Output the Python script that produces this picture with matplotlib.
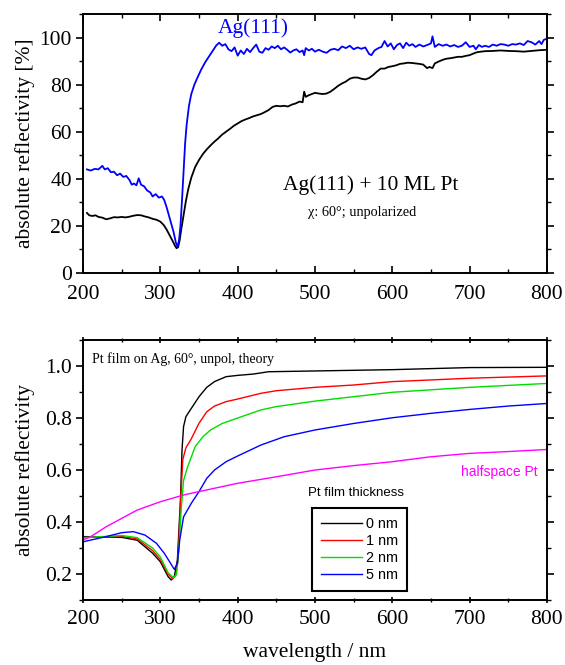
import matplotlib
matplotlib.use("Agg")
import matplotlib.pyplot as plt
from matplotlib.ticker import MultipleLocator

SERIF = ["Liberation Serif", "DejaVu Serif"]
SANS = ["Liberation Sans", "DejaVu Sans"]
plt.rcParams["font.family"] = SERIF
plt.rcParams["mathtext.fontset"] = "stix"

# ---- top panel: measured, Ag(111) and Ag(111) + 10 ML Pt (percent) ----
ag_wl = [205, 210, 215, 220, 225, 228, 232, 236, 240, 244, 248, 252, 256, 260, 263,
         266, 269, 272, 275, 279, 283, 287, 290, 294, 298, 302, 305, 308, 311, 314,
         317, 320, 322, 324, 326, 328, 330, 332, 334, 337, 340, 344, 348, 353, 358,
         363, 368, 372, 376, 380, 384, 388, 392, 396, 400, 404, 408, 412, 416, 420,
         424, 428, 432, 436, 440, 444, 448, 452, 456, 460, 464, 468, 472, 476, 480,
         484, 486, 488, 492, 496, 500, 505, 510, 515, 520, 525, 530, 535, 540, 545,
         550, 555, 560, 565, 570, 573, 577, 582, 586, 590, 594, 598, 602, 606, 610,
         614, 618, 622, 626, 630, 635, 640, 645, 650, 652, 655, 660, 665, 670, 675,
         680, 685, 690, 695, 700, 705, 708, 712, 716, 720, 725, 730, 735, 740, 745,
         750, 755, 760, 765, 770, 775, 780, 785, 790, 793, 796, 800]
ag_r = [44.0, 43.5, 44.2, 44.0, 45.5, 44.0, 44.5, 42.8, 43.0, 41.5, 42.2, 40.8, 41.2, 39.5, 37.5,
        38.0, 37.2, 40.2, 37.5, 36.8, 35.0, 34.2, 32.5, 33.5, 32.0, 32.5, 31.0, 28.0, 24.5, 21.0,
        17.5, 13.0, 11.2, 13.5, 20.0, 31.0, 43.0, 55.0, 63.0, 71.0, 76.0, 80.0, 83.0, 86.5, 89.5,
        92.0, 94.5, 96.5, 97.8, 96.5, 97.2, 95.0, 94.2, 95.8, 92.3, 94.5, 93.0, 95.2, 93.8, 95.5,
        97.0, 94.0, 93.5, 95.5, 94.8, 96.2, 95.5, 96.5, 95.0, 95.8, 94.8, 93.6, 94.5, 95.0, 93.8,
        94.5, 92.5, 95.5, 94.5, 95.2, 94.0, 94.8, 94.0, 93.5, 94.8, 95.2, 94.6, 96.2, 95.5, 96.5,
        95.0, 95.8, 95.2, 95.8, 93.0, 92.5, 94.5, 95.5, 96.0, 98.5, 96.2, 97.5, 95.0, 96.8, 97.5,
        95.5, 97.8, 96.5, 97.2, 96.0, 97.0, 96.2, 96.8, 97.5, 100.5, 96.0, 97.2, 96.5, 97.0, 96.2,
        96.8, 96.0, 96.5, 98.0, 96.0, 96.5, 95.0, 96.8, 96.0, 96.5, 96.0, 97.0, 96.5, 97.2, 97.0,
        96.5, 97.2, 97.0, 97.5, 96.8, 98.5, 98.0, 97.0, 98.5, 97.2, 99.0, 99.5]

pt_wl = [205, 208, 212, 216, 220, 225, 230, 235, 240, 245, 250, 255, 260, 265, 270,
         275, 280, 285, 290, 295, 300, 304, 308, 312, 316, 319, 321, 323, 325, 327,
         330, 333, 336, 340, 345, 350, 355, 360, 365, 370, 375, 380, 385, 390, 395,
         400, 405, 410, 415, 420, 425, 430, 435, 440, 445, 450, 455, 460, 465, 470,
         475, 480, 484, 486, 488, 492, 496, 500, 505, 510, 515, 520, 525, 530, 535,
         540, 545, 550, 555, 560, 565, 570, 575, 580, 585, 590, 595, 600, 605, 610,
         615, 620, 625, 630, 635, 640, 645, 648, 652, 655, 660, 665, 670, 675, 680,
         685, 690, 695, 700, 705, 710, 715, 720, 730, 740, 750, 760, 770, 780, 790, 800]
pt_r = [25.5, 24.5, 24.2, 24.5, 23.8, 23.5, 22.8, 23.2, 23.7, 23.6, 23.8, 23.6, 23.9, 24.3, 24.6,
        24.5, 24.0, 23.6, 23.0, 22.6, 21.8, 20.5, 18.5, 16.0, 13.5, 11.5, 10.5, 11.0, 14.0, 18.5,
        24.5, 30.5, 35.5, 40.5, 45.0, 48.0, 50.5, 52.5, 54.2, 55.8, 57.2, 58.8, 60.0, 61.2, 62.5,
        63.5, 64.5, 65.2, 65.8, 66.5, 67.0, 67.5, 68.3, 69.2, 70.5, 71.0, 70.8, 71.0, 70.7, 71.5,
        72.0, 72.8, 72.5, 77.0, 74.8, 75.5, 76.0, 76.5, 76.2, 76.0, 76.2, 77.0, 78.2, 79.5, 80.5,
        81.3, 82.5, 83.0, 83.0, 82.5, 82.2, 82.8, 84.0, 85.5, 86.8, 86.8, 87.5, 87.8, 88.2, 88.8,
        89.0, 89.3, 89.2, 89.0, 88.8, 88.5, 87.0, 87.5, 87.0, 89.0, 89.8, 90.5, 91.0, 91.2, 91.5,
        91.8, 91.8, 92.2, 92.5, 93.2, 93.8, 94.0, 94.2, 94.3, 94.5, 94.3, 94.2, 94.0, 94.3, 94.6, 94.8]

# ---- bottom panel: theory for Pt film thickness ----
th_labels = ["0 nm", "1 nm", "2 nm", "5 nm"]
th_colors = ["black", "#ff0000", "#00dd00", "#0000ff"]

t0_wl = [200, 250, 270, 290, 300, 310, 314, 318, 322, 326, 328, 330, 333, 340, 350,
         360, 370, 385, 400, 420, 440, 500, 600, 700, 800]
t0_r = [0.344, 0.341, 0.330, 0.280, 0.247, 0.190, 0.177, 0.190, 0.254, 0.485, 0.677, 0.767, 0.805,
        0.837, 0.882, 0.918, 0.940, 0.959, 0.964, 0.969, 0.978, 0.981, 0.986, 0.994, 0.995]

t1_wl = [200, 250, 270, 290, 300, 310, 316, 320, 323, 326, 329, 333, 340, 350, 360,
         370, 385, 400, 430, 450, 500, 550, 600, 700, 800]
t1_r = [0.340, 0.345, 0.335, 0.290, 0.255, 0.200, 0.182, 0.195, 0.260, 0.470, 0.640, 0.685,
        0.720, 0.780, 0.824, 0.846, 0.863, 0.873, 0.895, 0.905, 0.918, 0.927, 0.940, 0.953, 0.962]

t2_wl = [200, 250, 270, 290, 300, 310, 317, 321, 324, 327, 330, 335, 345, 355, 365,
         380, 400, 430, 450, 500, 550, 600, 700, 800]
t2_r = [0.340, 0.348, 0.340, 0.300, 0.265, 0.205, 0.185, 0.200, 0.300, 0.450, 0.560, 0.610,
        0.690, 0.728, 0.754, 0.779, 0.800, 0.831, 0.844, 0.865, 0.882, 0.899, 0.918, 0.933]

t5_wl = [200, 230, 250, 265, 280, 295, 305, 312, 318, 322, 325, 330, 340, 350, 360,
         370, 385, 400, 430, 460, 500, 550, 600, 650, 700, 750, 800]
t5_r = [0.324, 0.344, 0.359, 0.363, 0.350, 0.318, 0.280, 0.247, 0.218, 0.240, 0.330, 0.420,
        0.472, 0.517, 0.568, 0.600, 0.632, 0.654, 0.696, 0.728, 0.754, 0.779, 0.801, 0.818,
        0.833, 0.846, 0.856]

half_wl = [200, 210, 230, 250, 270, 300, 330, 350, 400, 450, 500, 550, 600, 650, 700, 750, 800]
half_r = [0.331, 0.344, 0.382, 0.414, 0.446, 0.478, 0.504, 0.517, 0.549, 0.574, 0.600, 0.617,
          0.632, 0.651, 0.664, 0.671, 0.679]

theory = [(t0_wl, t0_r), (t1_wl, t1_r), (t2_wl, t2_r), (t5_wl, t5_r)]

FS = 15.5


def style_axes(ax):
    ax.set_xlim(200, 800)
    ax.xaxis.set_major_locator(MultipleLocator(100))
    ax.xaxis.set_minor_locator(MultipleLocator(50))
    ax.tick_params(labelsize=FS, width=1.2, length=5, pad=3)
    ax.tick_params(which="minor", width=1.0, length=3)
    for s in ax.spines.values():
        s.set_linewidth(1.4)


fig = plt.figure(figsize=(5.65, 6.65), dpi=100)

# ---- top ----
ax1 = fig.add_axes([0.147, 0.5895, 0.821, 0.3895])
ax1.plot(pt_wl, pt_r, color="black", lw=1.3)
ax1.plot(ag_wl, ag_r, color="#0000ff", lw=1.3)
style_axes(ax1)
ax1.set_ylim(0, 110)
ax1.yaxis.set_major_locator(MultipleLocator(20))
ax1.yaxis.set_minor_locator(MultipleLocator(10))
ax1.tick_params(axis="y", which="both", direction="out", right=True)
ax1.tick_params(axis="x", which="both", direction="in", top=True)
ax1.tick_params(axis="x", which="major", pad=9)
ax1.set_ylabel("absolute reflectivity [%]", fontsize=FS)
ax1.yaxis.set_label_coords(-0.104, 0.5)
ax1.text(420, 104, "Ag(111)", color="#0000ff", fontsize=FS, ha="center", va="center")
ax1.text(572, 37.5, "Ag(111) + 10 ML Pt", fontsize=FS, ha="center", va="center")
ax1.text(561, 25.5, "χ: 60°; unpolarized", fontsize=10.3, ha="center", va="center")

# ---- bottom ----
ax2 = fig.add_axes([0.147, 0.0977, 0.821, 0.391])
for (wl, r), c, lab in zip(theory, th_colors, th_labels):
    ax2.plot(wl, r, color=c, lw=1.0, label=lab)
ax2.plot(half_wl, half_r, color="#ff00ff", lw=1.0)
style_axes(ax2)
ax2.set_ylim(0.1, 1.1)
ax2.yaxis.set_major_locator(MultipleLocator(0.2))
ax2.yaxis.set_minor_locator(MultipleLocator(0.1))
ax2.tick_params(axis="y", which="both", direction="out", right=True)
ax2.tick_params(axis="x", which="both", direction="inout", top=True)
ax2.tick_params(axis="x", which="major", pad=5)
ax2.set_ylabel("absolute reflectivity", fontsize=FS)
ax2.yaxis.set_label_coords(-0.104, 0.5)
ax2.set_xlabel("wavelength / nm", fontsize=FS)
ax2.xaxis.set_label_coords(0.5, -0.165)
ax2.text(212, 1.027, "Pt film on Ag, 60°, unpol, theory", fontsize=10,
         ha="left", va="center")
ax2.text(739, 0.592, "halfspace Pt", color="#ff00ff", fontsize=10, family=SANS,
         ha="center", va="center")
ax2.text(553, 0.512, "Pt film thickness", fontsize=9.5, family=SANS,
         ha="center", va="center")
leg = ax2.legend(loc="upper left", bbox_to_anchor=(0.493, 0.355),
                 prop={"family": SANS, "size": 10.4}, frameon=True, fancybox=False,
                 handlelength=2.8, handletextpad=0.3, labelspacing=0.2,
                 borderpad=0.65, borderaxespad=0, edgecolor="black", framealpha=1)
leg.get_frame().set_linewidth(1.5)

fig.savefig("out.png", dpi=100)
